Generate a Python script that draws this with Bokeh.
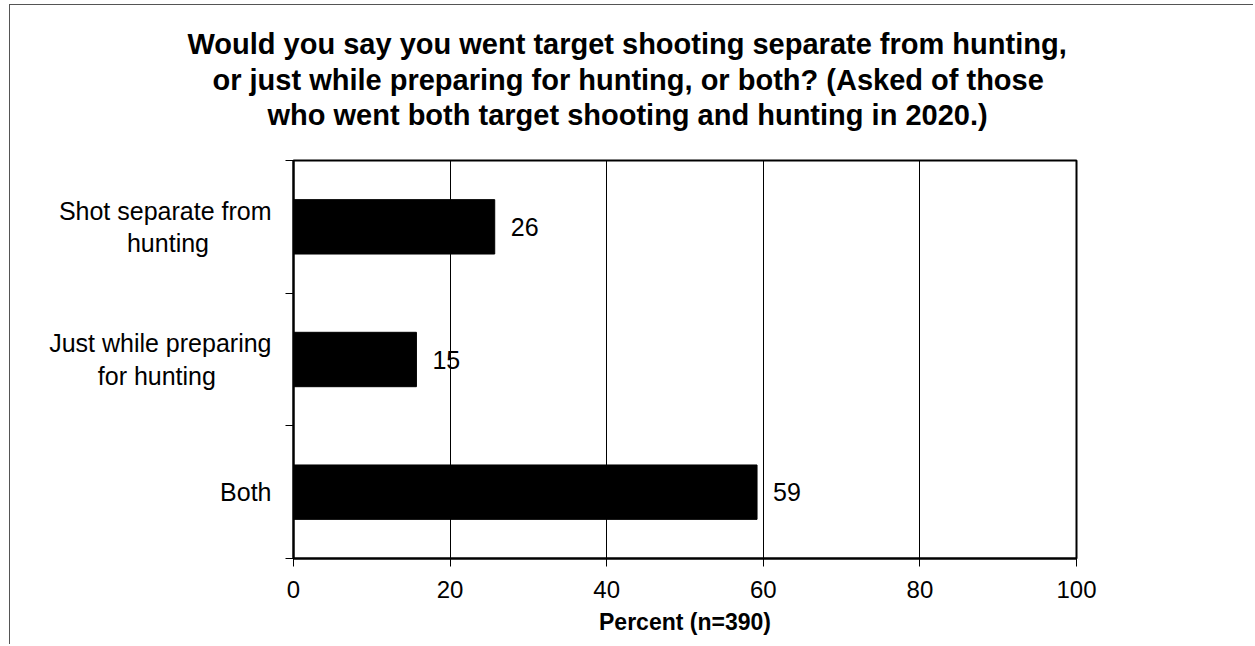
from bokeh.plotting import figure
from bokeh.models import FixedTicker, Title, ColumnDataSource
from bokeh.core.properties import value
from bokeh.embed import file_html
from bokeh.resources import INLINE

# ---- data ----
categories = ["Shot separate from hunting", "Just while preparing for hunting", "Both"]
category_lines = [["Shot separate from", "hunting"],
                  ["Just while preparing", "for hunting"],
                  ["Both"]]
bar_values = [25.7, 15.7, 59.2]
value_labels = ["26", "15", "59"]
x_ticks = [0, 20, 40, 60, 80, 100]
title_lines = [
    "Would you say you went target shooting separate from hunting,",
    "or just while preparing for hunting, or both? (Asked of those",
    "who went both target shooting and hunting in 2020.)",
]
x_label = "Percent (n=390)"

FONT = "Liberation Sans"
NBSP = "\u00a0"
n = len(categories)
ypos = [n - i - 0.5 for i in range(n)]

# right-aligned axis labels; pad shorter lines so each block reads centred
line_pad = [[0, 9], [0, 8], [0]]
category_labels = ["\n".join(s + NBSP * k for s, k in zip(lines, pads))
                   for lines, pads in zip(category_lines, line_pad)]

p = figure(width=1244, height=640, x_range=(0, 100), y_range=(0, n),
           output_backend="svg", toolbar_location=None,
           min_border_left=283, min_border_right=178, min_border_bottom=87,
           min_border_top=155)
p.styles = {"margin-left": "9px", "margin-top": "4px",
            "border-left": "1px solid #555", "border-top": "1px solid #555"}

# titles: spacer closest to frame, then lines bottom-up
p.add_layout(Title(text=" ", text_font_size="1px", standoff=26), "above")
title_offsets = [-106, -81, -26]
title_standoffs = [3, 1, 1]
for i in reversed(range(len(title_lines))):
    t = Title(text=title_lines[i], align="left", offset=title_offsets[i],
              text_font=FONT, text_font_size="29px", text_font_style="bold",
              text_color="black", standoff=title_standoffs[i])
    p.add_layout(t, "above")
p.title.visible = False

src = ColumnDataSource(dict(y=ypos, v=bar_values, lab=value_labels))
p.hbar(y="y", right="v", left=0, height=0.41, source=src,
       fill_color="black", line_color="black")
p.text(x="v", y="y", text="lab", source=src, x_offset=16,
       text_font=value(FONT), text_font_size="25px",
       text_baseline="middle", text_align="left", text_color="black")

# grid / frame
p.xgrid.ticker = FixedTicker(ticks=x_ticks[1:-1])
p.xgrid.grid_line_color = "black"
p.xgrid.grid_line_width = 1
p.xgrid.grid_line_alpha = 1
p.ygrid.grid_line_color = None
p.outline_line_color = "black"
p.outline_line_width = 2
p.outline_line_alpha = 1
p.background_fill_color = "white"
p.border_fill_color = "white"

# x axis
xa = p.xaxis[0]
xa.ticker = FixedTicker(ticks=x_ticks)
xa.axis_line_width = 2
xa.axis_line_color = "black"
xa.major_tick_in = 0
xa.major_tick_out = 8
xa.major_tick_line_color = "black"
xa.minor_tick_line_color = None
xa.major_label_text_font = FONT
xa.major_label_text_font_size = "24px"
xa.major_label_text_color = "black"
xa.major_label_standoff = 14
xa.axis_label = x_label
xa.axis_label_text_font = FONT
xa.axis_label_text_font_size = "23px"
xa.axis_label_text_font_style = "bold"
xa.axis_label_text_color = "black"
xa.axis_label_standoff = 8

# y axis: labels at category centres, ticks between categories
ya = p.yaxis[0]
ya.ticker = FixedTicker(ticks=ypos, minor_ticks=list(range(n + 1)))
ya.major_label_overrides = {y: lab for y, lab in zip(ypos, category_labels)}
ya.axis_line_width = 2
ya.axis_line_color = "black"
ya.major_tick_line_color = None
ya.major_tick_in = 0
ya.major_tick_out = 0
ya.minor_tick_in = 0
ya.minor_tick_out = 8
ya.minor_tick_line_color = "black"
ya.major_label_text_font = FONT
ya.major_label_text_font_size = "25px"
ya.major_label_text_line_height = 1.15
ya.major_label_text_color = "black"
ya.major_label_standoff = 14

open("out.html", "w").write(file_html(p, INLINE))
